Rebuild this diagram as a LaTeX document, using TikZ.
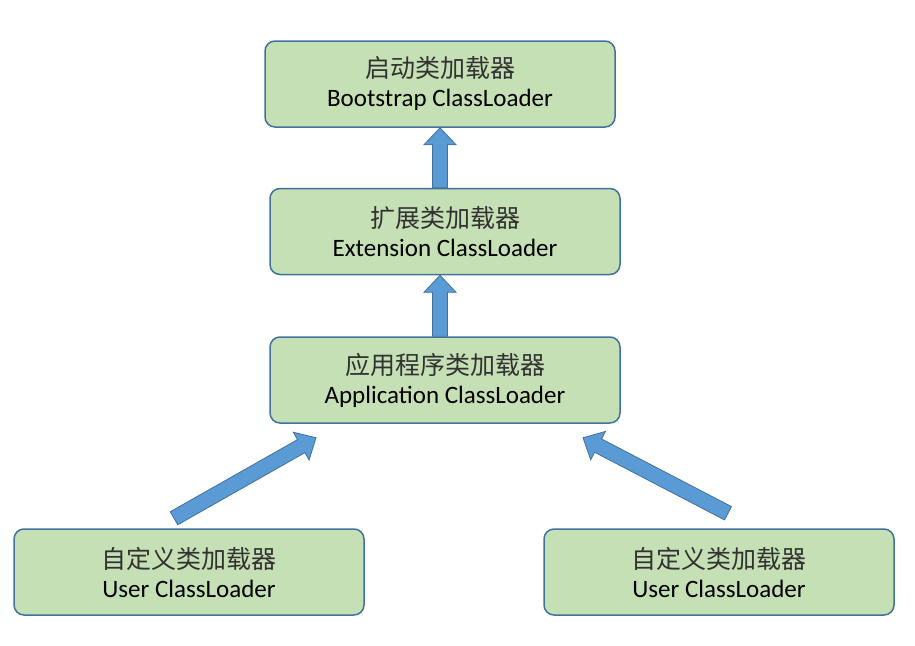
\documentclass[tikz,border=0pt]{standalone}
\usepackage{fontspec}
\setmainfont{Carlito}
\newfontfamily\cjk{Noto Sans CJK SC}
\usetikzlibrary{calc,positioning}
\definecolor{BoxGreen}{RGB}{197,224,180}
\definecolor{BoxEdge}{RGB}{65,113,156}
\definecolor{ArrowBlue}{RGB}{91,155,213}
\definecolor{ArrowEdge}{RGB}{65,113,156}
\definecolor{HanGray}{RGB}{50,50,50}
\tikzset{
  loaderbox/.style={
    draw=BoxEdge,
    fill=BoxGreen,
    line width=1.5pt,
    rounded corners=10pt,
    align=center,
    minimum width=350pt,
    minimum height=86pt,
    font=\fontsize{25}{29}\selectfont
  },
  blockarrow/.style={
    draw=ArrowEdge,
    fill=ArrowBlue,
    line width=0.8pt,
    to path={
      ($(\tikztotarget)!17pt!(\tikztostart)$) coordinate (hb)
      ($(\tikztostart)!7.5pt!90:(\tikztotarget)$)
      -- ($(hb)!7.5pt!90:(\tikztotarget)$)
      -- ($(hb)!16pt!90:(\tikztotarget)$)
      -- (\tikztotarget)
      -- ($(hb)!16pt!-90:(\tikztotarget)$)
      -- ($(hb)!7.5pt!-90:(\tikztotarget)$)
      -- ($(\tikztostart)!7.5pt!-90:(\tikztotarget)$)
      -- cycle
    }
  }
}
\newcommand{\hanline}[1]{{\cjk\color{HanGray}#1}}

\begin{document}
\begin{tikzpicture}[x=1pt,y=-1pt]
\useasboundingbox (0,0) rectangle (915,645);

\node[loaderbox] (boot) at (440,84)
  {\hanline{启动类加载器}\\Bootstrap ClassLoader};
\node[loaderbox,below=60pt of boot,xshift=5pt] (ext)
  {\hanline{扩展类加载器}\\Extension ClassLoader};
\node[loaderbox,below=61pt of ext] (app)
  {\hanline{应用程序类加载器}\\Application ClassLoader};
\node[loaderbox] (userL) at (189,572)
  {\hanline{自定义类加载器}\\User ClassLoader};
\node[loaderbox] (userR) at (719,572)
  {\hanline{自定义类加载器}\\User ClassLoader};

% free ends of the slanted arrows
\coordinate (userL-tail) at ([shift={(-15,-10)}]userL.north);
\coordinate (app-in-left) at ([shift={(-129,14)}]app.south);
\coordinate (userR-tail) at ([shift={(9,-15)}]userR.north);
\coordinate (app-in-right) at ([shift={(138,14)}]app.south);

\draw[blockarrow] (boot.south |- ext.north) to (boot.south);
\draw[blockarrow] (boot.south |- app.north) to (boot.south |- ext.south);
\draw[blockarrow] (userL-tail) to (app-in-left);
\draw[blockarrow] (userR-tail) to (app-in-right);

\end{tikzpicture}
\end{document}
